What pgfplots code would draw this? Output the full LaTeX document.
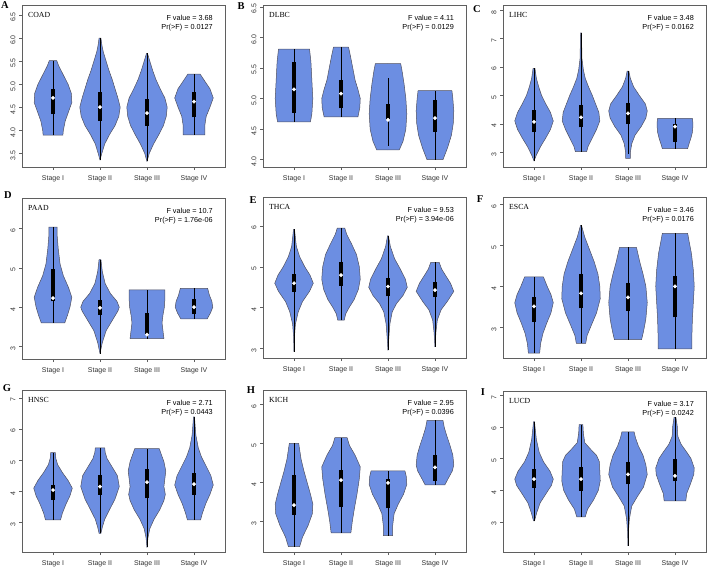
\documentclass[border=0pt]{standalone}
\usepackage{fontspec}
\setmainfont{Liberation Sans}
\newfontfamily\seriffont{Liberation Serif}
\usepackage{pgfplots}
\pgfplotsset{compat=1.18}
\definecolor{vblue}{RGB}{108,142,226}
\definecolor{vedge}{RGB}{80,80,95}
\definecolor{axgray}{RGB}{95,95,95}

% #1 position, #2 bottom y, #3 top y, #4 rows "y halfwidth\\"
\newcommand{\violin}[4]{%
\addplot[fill=vblue, draw=vedge, line width=0.5bp, forget plot] table[row sep=\\, x expr=#1+\thisrow{w}, y=y]{y w\\#2 0\\#4#3 0\\};
\addplot[fill=vblue, draw=vedge, line width=0.5bp, forget plot] table[row sep=\\, x expr=#1-\thisrow{w}, y=y]{y w\\#2 0\\#4#3 0\\};
}
\newcommand{\vbx}[6]{%
\addplot[black, line width=0.6bp, forget plot] coordinates {(#1,#2) (#1,#6)};
\addplot[black, line width=3.6bp, forget plot] coordinates {(#1,#3) (#1,#5)};
\addplot[only marks, mark=*, mark size=1.7bp, mark options={draw=white, fill=white}, forget plot] coordinates {(#1,#4)};
}
\newcommand{\pinfo}[6]{%
\node[anchor=west, font=\seriffont\fontsize{7.8}{9}\selectfont, inner sep=0pt, xshift=6bp, yshift=-10bp] at (rel axis cs:0,1) {#1};
\node[anchor=north east, align=right, font=\fontsize{7.3}{9}\selectfont, inner sep=0pt, xshift=-12bp, yshift=-10bp] at (rel axis cs:1,1) {F value = #2\\Pr(>F) = #3};
\node[font=\seriffont\bfseries\fontsize{10.5}{11}\selectfont, inner sep=0pt, xshift=#5bp, yshift=#6bp] at (rel axis cs:0,1) {#4};
}
\pgfplotsset{
 vio/.style={scale only axis, width=203bp, anchor=north west, clip mode=individual,
  xmin=0.34, xmax=4.66, xtick={1,2,3,4},
  xticklabels={Stage I,Stage II,Stage III,Stage IV},
  tick align=outside, major tick length=3bp,
  xtick pos=left, ytick pos=left,
  axis line style={axgray, line width=0.7bp},
  tick style={axgray, line width=0.5bp},
  tick label style={font=\fontsize{7}{8}\selectfont, text=black!80},
  yticklabel style={rotate=90, anchor=south, xshift=-2bp},
  xticklabel style={yshift=-2bp},
  /pgf/number format/assume math mode=true},
 onedec/.style={yticklabel style={/pgf/number format/.cd, fixed, fixed zerofill, precision=1}}
}

\begin{document}
\begin{tikzpicture}
\useasboundingbox (0,0) rectangle (708bp,-570bp);

% ---------- A COAD
\begin{axis}[vio, onedec, at={(22bp,-5bp)}, height=162bp, ymin=3.2, ymax=6.72, ytick={3.5,4,4.5,5,5.5,6,6.5}]
\violin{1}{3.89}{5.51}{3.89 0.21\\4.0 0.22\\4.2 0.26\\4.4 0.33\\4.6 0.40\\4.8 0.39\\5.0 0.32\\5.2 0.22\\5.4 0.12\\5.51 0.08\\}
\vbx{1}{3.89}{4.35}{4.7}{4.9}{5.51}
\violin{2}{3.35}{6.0}{3.35 0.0\\3.5 0.04\\3.7 0.1\\3.9 0.2\\4.1 0.32\\4.3 0.40\\4.5 0.43\\4.7 0.38\\4.9 0.32\\5.1 0.26\\5.3 0.19\\5.5 0.13\\5.7 0.07\\5.85 0.04\\6.0 0.02\\}
\vbx{2}{3.35}{4.2}{4.5}{4.82}{6.0}
\violin{3}{3.32}{5.67}{3.32 0.0\\3.5 0.05\\3.7 0.14\\3.9 0.25\\4.1 0.35\\4.3 0.41\\4.5 0.43\\4.7 0.38\\4.9 0.28\\5.1 0.19\\5.3 0.12\\5.5 0.06\\5.67 0.01\\}
\vbx{3}{3.32}{4.1}{4.37}{4.68}{5.67}
\violin{4}{3.9}{5.22}{3.9 0.23\\4.1 0.23\\4.3 0.26\\4.5 0.34\\4.7 0.41\\4.9 0.34\\5.05 0.24\\5.22 0.13\\}
\vbx{4}{3.9}{4.28}{4.62}{4.82}{5.22}
\pinfo{COAD}{3.68}{0.0127}{A}{-17}{0}
\end{axis}

% ---------- B DLBC
\begin{axis}[vio, onedec, at={(263bp,-5bp)}, height=162bp, ymin=3.88, ymax=6.53, ytick={4,4.5,5,5.5,6,6.5}]
\violin{1}{4.62}{5.81}{4.62 0.35\\4.75 0.38\\5.0 0.40\\5.3 0.38\\5.6 0.36\\5.81 0.33\\}
\vbx{1}{4.62}{4.77}{5.15}{5.6}{5.81}
\violin{2}{4.7}{5.84}{4.7 0.36\\4.85 0.40\\5.0 0.41\\5.15 0.36\\5.3 0.30\\5.5 0.25\\5.7 0.2\\5.84 0.16\\}
\vbx{2}{4.7}{4.84}{5.08}{5.31}{5.84}
\violin{3}{4.16}{5.57}{4.16 0.24\\4.3 0.32\\4.5 0.38\\4.75 0.40\\5.0 0.38\\5.25 0.34\\5.45 0.3\\5.57 0.27\\}
\vbx{3}{4.23}{4.65}{4.65}{4.91}{5.33}
\violin{4}{4.0}{5.13}{4.0 0.17\\4.2 0.27\\4.4 0.35\\4.6 0.39\\4.8 0.40\\5.0 0.38\\5.13 0.36\\}
\vbx{4}{4.0}{4.46}{4.68}{4.98}{5.13}
\pinfo{DLBC}{4.11}{0.0129}{B}{-22}{-1.5}
\end{axis}

% ---------- C LIHC
\begin{axis}[vio, at={(503bp,-5bp)}, height=162bp, ymin=2.48, ymax=8.18, ytick={3,4,5,6,7,8}]
\violin{1}{2.69}{5.95}{2.69 0.0\\2.9 0.05\\3.2 0.14\\3.5 0.25\\3.8 0.35\\4.1 0.41\\4.4 0.35\\4.7 0.25\\5.0 0.16\\5.3 0.1\\5.6 0.05\\5.95 0.02\\}
\vbx{1}{2.69}{3.71}{4.07}{4.48}{5.95}
\violin{2}{3.02}{7.2}{3.02 0.12\\3.2 0.15\\3.5 0.24\\3.8 0.33\\4.1 0.40\\4.4 0.38\\4.7 0.31\\5.0 0.24\\5.3 0.16\\5.6 0.09\\5.9 0.05\\6.3 0.02\\7.2 0.01\\}
\vbx{2}{3.02}{3.87}{4.23}{4.66}{7.2}
\violin{3}{2.78}{5.85}{2.78 0.05\\3.0 0.05\\3.3 0.08\\3.6 0.15\\3.9 0.28\\4.2 0.38\\4.45 0.41\\4.7 0.37\\5.0 0.24\\5.3 0.12\\5.6 0.05\\5.85 0.02\\}
\vbx{3}{2.95}{4.01}{4.37}{4.72}{5.85}
\violin{4}{3.13}{4.19}{3.13 0.27\\3.3 0.3\\3.5 0.34\\3.7 0.37\\3.9 0.38\\4.05 0.38\\4.19 0.37\\}
\vbx{4}{3.13}{3.37}{3.9}{3.99}{4.19}
\pinfo{LIHC}{3.48}{0.0162}{C}{-26}{-4}
\end{axis}

% ---------- D PAAD
\begin{axis}[vio, at={(22bp,-198bp)}, height=161bp, ymin=2.68, ymax=6.78, ytick={3,4,5,6}]
\violin{1}{3.6}{6.04}{3.6 0.25\\3.8 0.31\\4.0 0.36\\4.25 0.40\\4.5 0.33\\4.8 0.22\\5.1 0.15\\5.5 0.11\\5.8 0.09\\6.04 0.09\\}
\vbx{1}{3.6}{4.15}{4.23}{4.96}{6.04}
\violin{2}{2.82}{5.21}{2.82 0.0\\3.1 0.05\\3.4 0.13\\3.7 0.28\\3.9 0.38\\4.0 0.41\\4.15 0.36\\4.35 0.22\\4.6 0.11\\4.9 0.05\\5.21 0.02\\}
\vbx{2}{2.82}{3.8}{3.98}{4.19}{5.21}
\violin{3}{3.2}{4.44}{3.2 0.36\\3.4 0.34\\3.6 0.32\\3.8 0.34\\4.0 0.37\\4.2 0.38\\4.44 0.38\\}
\vbx{3}{3.2}{3.29}{3.3}{3.86}{4.44}
\violin{4}{3.7}{4.48}{3.7 0.28\\3.85 0.35\\4.0 0.40\\4.15 0.38\\4.3 0.33\\4.48 0.29\\}
\vbx{4}{3.7}{3.83}{4.0}{4.2}{4.48}
\pinfo{PAAD}{10.7}{1.76e-06}{D}{-14}{2.5}
\end{axis}

% ---------- E THCA
\begin{axis}[vio, at={(263bp,-197bp)}, height=161bp, ymin=2.77, ymax=6.71, ytick={3,4,5,6}]
\violin{1}{2.92}{5.92}{2.92 0.0\\3.3 0.01\\3.6 0.03\\3.9 0.09\\4.15 0.18\\4.4 0.33\\4.6 0.41\\4.8 0.34\\5.0 0.23\\5.25 0.12\\5.5 0.05\\5.92 0.01\\}
\vbx{1}{2.92}{4.39}{4.6}{4.82}{5.92}
\violin{2}{3.7}{5.95}{3.7 0.07\\3.85 0.1\\4.0 0.17\\4.2 0.28\\4.45 0.37\\4.7 0.41\\5.0 0.39\\5.3 0.33\\5.55 0.23\\5.8 0.12\\5.95 0.08\\}
\vbx{2}{3.7}{4.54}{4.8}{5.12}{5.95}
\violin{3}{2.96}{5.76}{2.96 0.0\\3.3 0.02\\3.6 0.04\\3.9 0.09\\4.1 0.18\\4.3 0.32\\4.5 0.41\\4.7 0.37\\4.95 0.26\\5.2 0.14\\5.5 0.05\\5.76 0.01\\}
\vbx{3}{2.96}{4.28}{4.52}{4.73}{5.76}
\violin{4}{3.04}{5.11}{3.04 0.0\\3.4 0.02\\3.7 0.05\\3.95 0.13\\4.15 0.26\\4.4 0.40\\4.6 0.33\\4.8 0.22\\4.95 0.14\\5.11 0.09\\}
\vbx{4}{3.04}{4.27}{4.43}{4.62}{5.11}
\pinfo{THCA}{9.53}{3.94e-06}{E}{-10}{-3}
\end{axis}

% ---------- F ESCA
\begin{axis}[vio, at={(503bp,-197bp)}, height=161bp, ymin=2.25, ymax=6.18, ytick={3,4,5,6}]
\violin{1}{2.37}{4.23}{2.37 0.12\\2.6 0.14\\2.85 0.19\\3.1 0.27\\3.35 0.36\\3.6 0.41\\3.8 0.36\\4.0 0.28\\4.23 0.2\\}
\vbx{1}{2.37}{3.14}{3.51}{3.73}{4.23}
\violin{2}{2.61}{5.49}{2.61 0.1\\2.8 0.13\\3.05 0.22\\3.35 0.33\\3.7 0.41\\4.0 0.40\\4.3 0.36\\4.6 0.28\\4.9 0.18\\5.2 0.08\\5.49 0.01\\}
\vbx{2}{2.61}{3.46}{3.83}{4.3}{5.49}
\violin{3}{2.7}{4.95}{2.7 0.29\\2.9 0.33\\3.2 0.38\\3.6 0.41\\4.0 0.38\\4.3 0.32\\4.6 0.25\\4.95 0.18\\}
\vbx{3}{2.7}{3.4}{3.73}{4.09}{4.95}
\violin{4}{2.47}{5.29}{2.47 0.36\\2.8 0.36\\3.2 0.37\\3.6 0.39\\4.0 0.41\\4.4 0.39\\4.8 0.35\\5.1 0.3\\5.29 0.27\\}
\vbx{4}{2.47}{3.24}{4.0}{4.26}{5.29}
\pinfo{ESCA}{3.46}{0.0176}{F}{-23}{-2}
\end{axis}

% ---------- G HNSC
\begin{axis}[vio, at={(22bp,-390bp)}, height=162bp, ymin=2.05, ymax=7.25, ytick={3,4,5,6,7}]
\violin{1}{3.08}{5.24}{3.08 0.16\\3.3 0.2\\3.6 0.28\\3.85 0.36\\4.1 0.41\\4.35 0.32\\4.6 0.2\\4.85 0.1\\5.05 0.06\\5.24 0.05\\}
\vbx{1}{3.08}{3.72}{4.04}{4.21}{5.24}
\violin{2}{2.65}{5.39}{2.65 0.02\\2.85 0.05\\3.1 0.1\\3.4 0.2\\3.75 0.32\\4.15 0.41\\4.5 0.37\\4.8 0.25\\5.05 0.15\\5.25 0.11\\5.39 0.1\\}
\vbx{2}{2.65}{3.88}{4.15}{4.53}{5.39}
\violin{3}{2.2}{5.37}{2.2 0.0\\2.5 0.02\\2.8 0.06\\3.1 0.15\\3.4 0.27\\3.7 0.36\\3.9 0.39\\4.15 0.36\\4.4 0.38\\4.65 0.40\\4.95 0.36\\5.2 0.3\\5.37 0.26\\}
\vbx{3}{2.2}{3.77}{4.29}{4.72}{5.37}
\violin{4}{3.08}{6.39}{3.08 0.14\\3.3 0.18\\3.6 0.25\\3.9 0.34\\4.2 0.41\\4.5 0.36\\4.8 0.26\\5.1 0.16\\5.4 0.09\\5.8 0.04\\6.39 0.01\\}
\vbx{4}{3.08}{3.88}{4.23}{4.59}{6.39}
\pinfo{HNSC}{2.71}{0.0443}{G}{-15}{2}
\end{axis}

% ---------- H KICH
\begin{axis}[vio, at={(263bp,-390bp)}, height=162bp, ymin=2.22, ymax=6.37, ytick={3,4,5,6}]
\violin{1}{2.36}{5.0}{2.36 0.12\\2.6 0.18\\2.9 0.3\\3.2 0.39\\3.45 0.40\\3.7 0.35\\4.0 0.28\\4.3 0.21\\4.6 0.15\\5.0 0.1\\}
\vbx{1}{2.36}{3.17}{3.42}{4.2}{5.0}
\violin{2}{2.71}{5.15}{2.71 0.21\\3.0 0.24\\3.3 0.28\\3.7 0.34\\4.1 0.39\\4.4 0.41\\4.7 0.3\\4.95 0.18\\5.15 0.13\\}
\vbx{2}{2.71}{3.37}{4.06}{4.32}{5.15}
\violin{3}{2.64}{4.3}{2.64 0.1\\2.9 0.1\\3.2 0.13\\3.45 0.22\\3.7 0.33\\3.95 0.40\\4.15 0.39\\4.3 0.36\\}
\vbx{3}{2.64}{3.34}{3.99}{4.1}{4.3}
\violin{4}{3.94}{5.59}{3.94 0.21\\4.1 0.28\\4.3 0.37\\4.45 0.40\\4.7 0.38\\4.95 0.32\\5.2 0.25\\5.4 0.2\\5.59 0.17\\}
\vbx{4}{3.94}{4.04}{4.39}{4.7}{5.59}
\pinfo{KICH}{2.95}{0.0396}{H}{-12}{0}
\end{axis}

% ---------- I LUCD
\begin{axis}[vio, at={(503bp,-391bp)}, height=161bp, ymin=2.05, ymax=7.13, ytick={3,4,5,6,7}]
\violin{1}{3.03}{6.16}{3.03 0.01\\3.3 0.06\\3.6 0.13\\3.9 0.26\\4.15 0.37\\4.35 0.41\\4.6 0.34\\4.9 0.2\\5.2 0.11\\5.6 0.05\\6.16 0.01\\}
\vbx{1}{3.03}{4.07}{4.35}{4.66}{6.16}
\violin{2}{3.16}{6.07}{3.16 0.09\\3.4 0.14\\3.7 0.27\\4.0 0.37\\4.3 0.41\\4.6 0.40\\4.9 0.39\\5.1 0.33\\5.3 0.2\\5.5 0.08\\5.8 0.05\\6.07 0.04\\}
\vbx{2}{3.16}{3.98}{4.35}{4.74}{6.07}
\violin{3}{2.24}{5.84}{2.24 0.0\\2.7 0.01\\3.1 0.03\\3.5 0.08\\3.8 0.2\\4.1 0.33\\4.5 0.41\\4.8 0.38\\5.1 0.32\\5.4 0.22\\5.65 0.16\\5.84 0.13\\}
\vbx{3}{2.24}{4.19}{4.5}{4.89}{5.84}
\violin{4}{3.66}{6.3}{3.66 0.23\\3.9 0.25\\4.2 0.33\\4.5 0.40\\4.7 0.41\\5.0 0.34\\5.2 0.25\\5.45 0.13\\5.7 0.06\\6.0 0.05\\6.3 0.02\\}
\vbx{4}{3.66}{4.28}{4.45}{4.98}{6.3}
\pinfo{LUCD}{3.17}{0.0242}{I}{-20}{-1}
\end{axis}
\end{tikzpicture}
\end{document}
